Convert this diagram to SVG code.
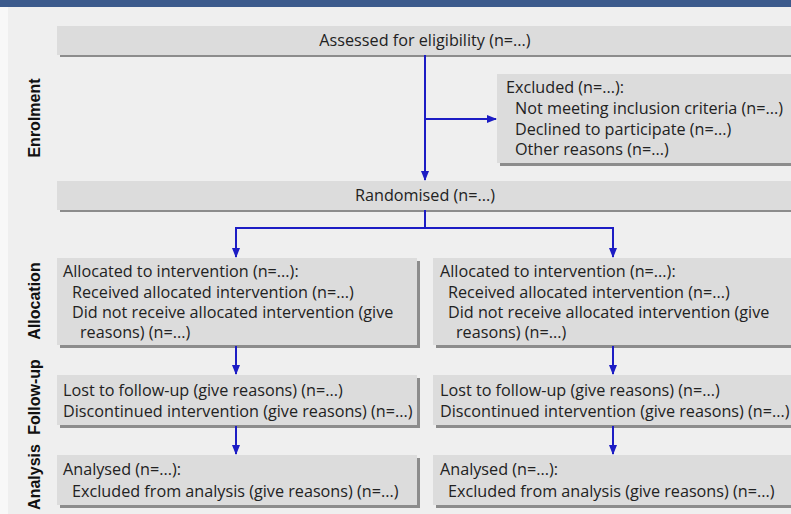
<svg xmlns="http://www.w3.org/2000/svg" width="791" height="514" viewBox="0 0 791 514">
<defs>
<style>
.bg{fill:#efefef}
.box{fill:#dcdcdc}
.sh{fill:#8c8c8c}
.t{font-family:"Open Sans","Liberation Sans",Arial,sans-serif;font-size:16.2px;fill:#222}
.lab{font-family:"Liberation Sans",Arial,sans-serif;font-size:16px;font-weight:bold;fill:#111}
.c{stroke:#1c1cc4;stroke-width:2;fill:none}
</style>
<marker id="ah" markerWidth="10" markerHeight="10" refX="9" refY="5" orient="auto" markerUnits="userSpaceOnUse">
<path d="M0,1 L10,5 L0,9 Z" fill="#1c1cc4"/>
</marker>
</defs>
<rect x="0" y="0" width="791" height="514" class="bg"/>
<rect x="0" y="7" width="8" height="507" fill="#f8f8f8"/>
<rect x="0" y="0" width="791" height="7" fill="#3c5a8c"/>

<g id="labels">
<text class="lab" transform="translate(40,118) rotate(-90)" text-anchor="middle">Enrolment</text>
<text class="lab" transform="translate(40,301) rotate(-90)" text-anchor="middle">Allocation</text>
<text class="lab" transform="translate(40,397) rotate(-90)" text-anchor="middle">Follow-up</text>
<text class="lab" transform="translate(40,477) rotate(-90)" text-anchor="middle">Analysis</text>
</g>

<g id="assessed">
<rect x="60" y="29" width="740" height="28" class="sh"/>
<rect x="57" y="26" width="740" height="29" class="box"/>
<text class="t" x="425" y="46" text-anchor="middle">Assessed for eligibility (n=...)</text>
</g>

<g id="excluded">
<rect x="500" y="77" width="300" height="89" class="sh"/>
<rect x="497" y="74" width="300" height="89" class="box"/>
<text class="t" x="506" y="93">Excluded (n=...):</text>
<text class="t" x="515" y="114">Not meeting inclusion criteria (n=...)</text>
<text class="t" x="515" y="135">Declined to participate (n=...)</text>
<text class="t" x="515" y="155">Other reasons (n=...)</text>
</g>

<g id="randomised">
<rect x="60" y="184" width="740" height="28" class="sh"/>
<rect x="57" y="181" width="740" height="29" class="box"/>
<text class="t" x="425" y="201" text-anchor="middle">Randomised (n=...)</text>
</g>

<g id="alloc-left">
<rect x="60" y="261" width="360" height="87" class="sh"/>
<rect x="57" y="258" width="360" height="87" class="box"/>
<text class="t" x="63" y="277">Allocated to intervention (n=...):</text>
<text class="t" x="72" y="298">Received allocated intervention (n=...)</text>
<text class="t" x="72" y="318">Did not receive allocated intervention (give</text>
<text class="t" x="80" y="338">reasons) (n=...)</text>
</g>

<g id="alloc-right">
<rect x="436" y="261" width="360" height="87" class="sh"/>
<rect x="433" y="258" width="360" height="87" class="box"/>
<text class="t" x="440" y="277">Allocated to intervention (n=...):</text>
<text class="t" x="448" y="298">Received allocated intervention (n=...)</text>
<text class="t" x="448" y="318">Did not receive allocated intervention (give</text>
<text class="t" x="456" y="338">reasons) (n=...)</text>
</g>

<g id="followup-left">
<rect x="60" y="378" width="360" height="50" class="sh"/>
<rect x="57" y="375" width="360" height="50" class="box"/>
<text class="t" x="63" y="396">Lost to follow-up (give reasons) (n=...)</text>
<text class="t" x="63" y="417">Discontinued intervention (give reasons) (n=...)</text>
</g>

<g id="followup-right">
<rect x="436" y="378" width="360" height="50" class="sh"/>
<rect x="433" y="375" width="360" height="50" class="box"/>
<text class="t" x="440" y="396">Lost to follow-up (give reasons) (n=...)</text>
<text class="t" x="440" y="417">Discontinued intervention (give reasons) (n=...)</text>
</g>

<g id="analysis-left">
<rect x="60" y="458" width="360" height="50" class="sh"/>
<rect x="57" y="455" width="360" height="50" class="box"/>
<text class="t" x="63" y="475">Analysed (n=...):</text>
<text class="t" x="72" y="497">Excluded from analysis (give reasons) (n=...)</text>
</g>

<g id="analysis-right">
<rect x="436" y="458" width="360" height="50" class="sh"/>
<rect x="433" y="455" width="360" height="50" class="box"/>
<text class="t" x="440" y="475">Analysed (n=...):</text>
<text class="t" x="448" y="497">Excluded from analysis (give reasons) (n=...)</text>
</g>

<g id="connectors">
<path class="c" d="M425,55 L425,180" marker-end="url(#ah)"/>
<path class="c" d="M425,119 L496,119" marker-end="url(#ah)"/>
<path class="c" d="M425,210 L425,228 M236,228 L613,228"/>
<path class="c" d="M236,227 L236,257" marker-end="url(#ah)"/>
<path class="c" d="M613,227 L613,257" marker-end="url(#ah)"/>
<path class="c" d="M236,346 L236,374" marker-end="url(#ah)"/>
<path class="c" d="M613,346 L613,374" marker-end="url(#ah)"/>
<path class="c" d="M236,426 L236,454" marker-end="url(#ah)"/>
<path class="c" d="M613,426 L613,454" marker-end="url(#ah)"/>
</g>
</svg>
